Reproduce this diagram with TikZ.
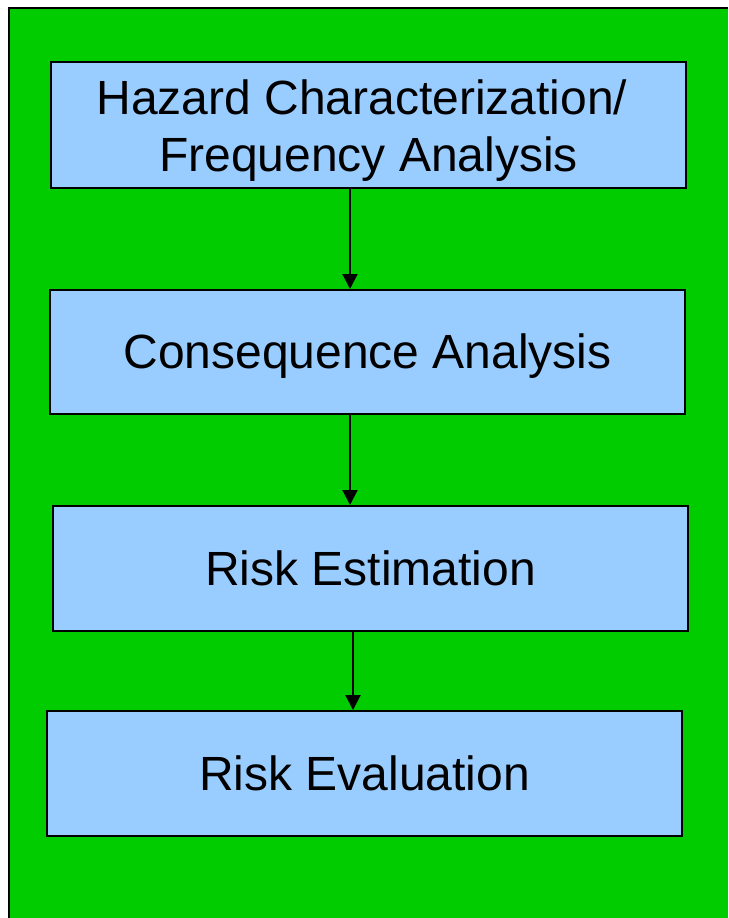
\documentclass[tikz,border=0pt]{standalone}
\usepackage{fontspec}
\setmainfont{Liberation Sans}
\usetikzlibrary{arrows.meta}
\begin{document}
\begin{tikzpicture}[x=1pt,y=-1pt,
  box/.style={draw=black, line width=2pt, fill=boxblue, minimum width=635pt, inner sep=0pt,
    align=center, font=\fontsize{48}{57}\selectfont, text height=35pt, text depth=2pt},
  arr/.style={draw=black, line width=2pt, -{Triangle[length=15pt,width=15pt]}}]
\definecolor{bggreen}{HTML}{00CC00}
\definecolor{boxblue}{HTML}{99CCFF}
\useasboundingbox (0,0) rectangle (728,918);
\fill[white] (0,0) rectangle (728,918);
\fill[bggreen] (9,8) rectangle (728,918);
\draw[line width=2pt] (9,918) -- (9,8) -- (728,8);
\node[box, minimum height=126pt, text height=92pt, text depth=0pt] (b1) at (368.5,125) {Hazard Characterization/\kern13.3pt\\Frequency Analysis};
\node[box, minimum height=124pt] (b2) at (367.5,352) {Consequence Analysis};
\node[box, minimum height=125pt] (b3) at (370.5,568.5) {Risk Estimation};
\node[box, minimum height=125pt] (b4) at (364.5,773.5) {Risk Evaluation};
\draw[arr] ([xshift=-18.5pt]b1.south) -- ([xshift=-17.5pt]b2.north);
\draw[arr] ([xshift=-17.5pt]b2.south) -- ([xshift=-20.5pt]b3.north);
\draw[arr] ([xshift=-17.5pt,yshift=2pt]b3.south) -- ([xshift=-11.5pt]b4.north);
\end{tikzpicture}
\end{document}
